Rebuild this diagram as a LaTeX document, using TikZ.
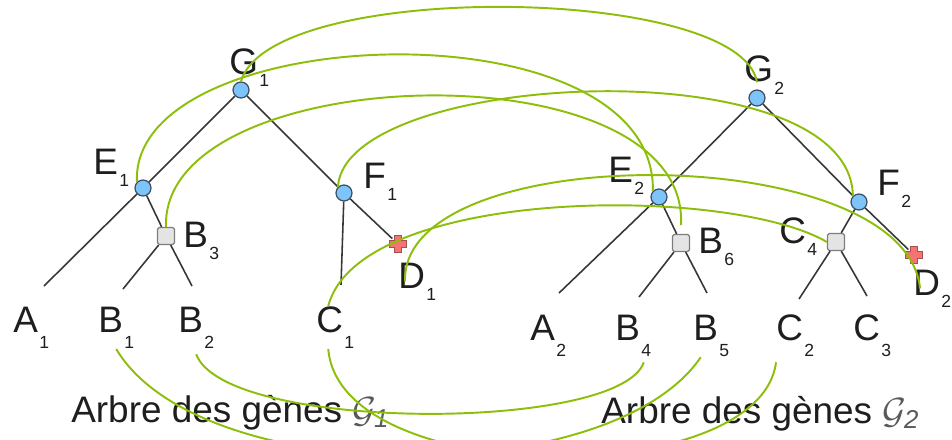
\documentclass[tikz,border=0pt]{standalone}
\usepackage{fontspec}
\setmainfont{Liberation Sans}
\usepackage{tikz}
\usetikzlibrary{positioning}
\definecolor{twig}{RGB}{140,190,10}
\definecolor{skyfill}{RGB}{125,196,250}
\definecolor{skyedge}{RGB}{60,78,96}
\definecolor{boxfill}{RGB}{228,228,228}
\definecolor{boxedge}{RGB}{125,125,125}
\definecolor{lossfill}{RGB}{245,115,115}
\definecolor{lossedge}{RGB}{165,80,80}
\definecolor{bark}{RGB}{55,55,55}
\definecolor{textdark}{RGB}{30,30,30}
\definecolor{capgray}{RGB}{90,90,90}
\newcommand{\genelab}[3][7pt]{#2\kern0.8pt\raisebox{-#1}{\fontsize{10}{10}\selectfont #3}}
\tikzset{
  branch/.style={line width=0.9pt,bark},
  recon/.style={line width=1.1pt,twig},
  speciation/.style={circle,draw=skyedge,fill=skyfill,line width=0.7pt,
    minimum size=0.32cm,inner sep=0pt},
  duplication/.style={rectangle,draw=boxedge,fill=boxfill,line width=0.7pt,
    rounded corners=1pt,minimum size=0.34cm,inner sep=0pt},
  genloss/.style={circle,minimum size=0.3cm,inner sep=0pt},
  losscross/.style={draw=lossedge,fill=lossfill,line width=0.6pt},
  glabel/.style={anchor=base west,inner sep=0pt,text=textdark,
    font=\fontsize{21}{21}\selectfont}
}

\begin{document}
\begin{tikzpicture}[x=0.02cm,y=-0.02cm]
  \useasboundingbox (0,0) rectangle (952,439);
  \clip (0,0) rectangle (952,439);
  % tree 1
  \node[speciation] (G1) at (241,90) {};
  \node[speciation] (E1) at (143,188) {};
  \node[speciation] (F1) at (344,193) {};
  \node[duplication] (B3) at (166,236) {};
  \node[genloss] (D1) at (398,244) {};
  \coordinate (a1) at (44,286);
  \coordinate (b1) at (123,289);
  \coordinate (b2) at (192,286);
  \coordinate (c1) at (341,285);
  % tree 2
  \node[speciation] (G2) at (757,98) {};
  \node[speciation] (E2) at (659,197) {};
  \node[speciation] (F2) at (859,202) {};
  \node[duplication] (B6) at (681,243) {};
  \node[duplication] (C4) at (836,242) {};
  \node[genloss] (D2) at (914,255) {};
  \coordinate (a2) at (559,293);
  \coordinate (b4) at (639,297);
  \coordinate (b5) at (707,293);
  \coordinate (c2) at (799,299);
  \coordinate (c3) at (867,296);
  \foreach \u/\v in {G1/E1,G1/F1,E1/a1,E1/B3,B3/b1,B3/b2,F1/c1,F1/D1,
      G2/E2,G2/F2,E2/a2,E2/B6,B6/b4,B6/b5,F2/C4,F2/D2,C4/c2,C4/c3}
    \draw[branch] (\u) -- (\v);
  % loss marks
  \foreach \n in {D1,D2}
    \filldraw[losscross] (\n.center) ++(-3.5,-8.5) -- ++(7,0) -- ++(0,5) -- ++(5,0)
      -- ++(0,7) -- ++(-5,0) -- ++(0,5) -- ++(-7,0) -- ++(0,-5) -- ++(-5,0)
      -- ++(0,-7) -- ++(5,0) -- cycle;
  % labels
  \node[glabel] (lG1) at (229,74) {\genelab{G}{1}};
  \node[glabel] (lE1) at (93,174) {\genelab{E}{1}};
  \node[glabel] (lF1) at (363,188) {\genelab{F}{1}};
  \node[glabel] (lB3) at (183,247) {\genelab{B}{3}};
  \node[glabel] (lD1) at (398,288) {\genelab{D}{1}};
  \node[glabel] (lA1) at (13,332) {\genelab[9.5pt]{A}{1}};
  \node[glabel] (lB1) at (98,332) {\genelab[9.5pt]{B}{1}};
  \node[glabel] (lB2) at (178,332) {\genelab[9.5pt]{B}{2}};
  \node[glabel] (lC1) at (316,332) {\genelab[9.5pt]{C}{1}};
  \node[glabel] (lG2) at (744,82) {\genelab{G}{2}};
  \node[glabel] (lE2) at (608,182) {\genelab{E}{2}};
  \node[glabel] (lF2) at (877,195) {\genelab{F}{2}};
  \node[glabel] (lB6) at (698,253) {\genelab{B}{6}};
  \node[glabel] (lC4) at (779,243) {\genelab{C}{4}};
  \node[glabel] (lD2) at (913,295) {\genelab{D}{2}};
  \node[glabel] (lA2) at (530,340) {\genelab[9.5pt]{A}{2}};
  \node[glabel] (lB4) at (615,340) {\genelab[9.5pt]{B}{4}};
  \node[glabel] (lB5) at (693,340) {\genelab[9.5pt]{B}{5}};
  \node[glabel] (lC2) at (776,340) {\genelab[9.5pt]{C}{2}};
  \node[glabel] (lC3) at (853,340) {\genelab[9.5pt]{C}{3}};
  \node[glabel] (cap1) at (71,422) {Arbre des gènes \textcolor{capgray}{$\mathcal{G}_{\mathit{1}}$}};
  \node[glabel] (cap2) at (601,423) {Arbre des gènes \textcolor{capgray}{$\mathcal{G}_{\mathit{2}}$}};
  % reconciliation links
  \draw[recon] (G1.north) .. controls +(29,-102) and +(-16,-98) .. ([yshift=4pt]G2.north);
  \draw[recon] (E1.north west) .. controls +(-7,-162) and +(3,-190) .. (E2.north west);
  \draw[recon] (B3.north) .. controls +(-6,-167) and +(9,-181) .. ([yshift=5pt]B6.north);
  \draw[recon] (F1.north west) .. controls +(7,-117) and +(-3,-150) .. (F2.north west);
  \draw[recon] ([xshift=4pt]lD1.west) .. controls +(-5,-143) and +(-15,-150) .. ([xshift=4pt]lD2.west);
  \draw[recon] ([xshift=-4pt]lC1.north) .. controls +(32,-120) and +(-97,-57) .. (C4.west);
  \draw[recon] (lB1.south) .. controls +(84,141) and +(-90,133) .. ([xshift=-6pt]lB5.south);
  \draw[recon] ([yshift=-3pt]lB2.south) .. controls +(29,78) and +(-24,70) .. ([xshift=6pt,yshift=-3pt]lB4.south);
  \draw[recon] ([xshift=-4pt]lC1.south) .. controls +(12,141) and +(-16,128) .. ([yshift=-3pt]lC2.south west);
\end{tikzpicture}
\end{document}
